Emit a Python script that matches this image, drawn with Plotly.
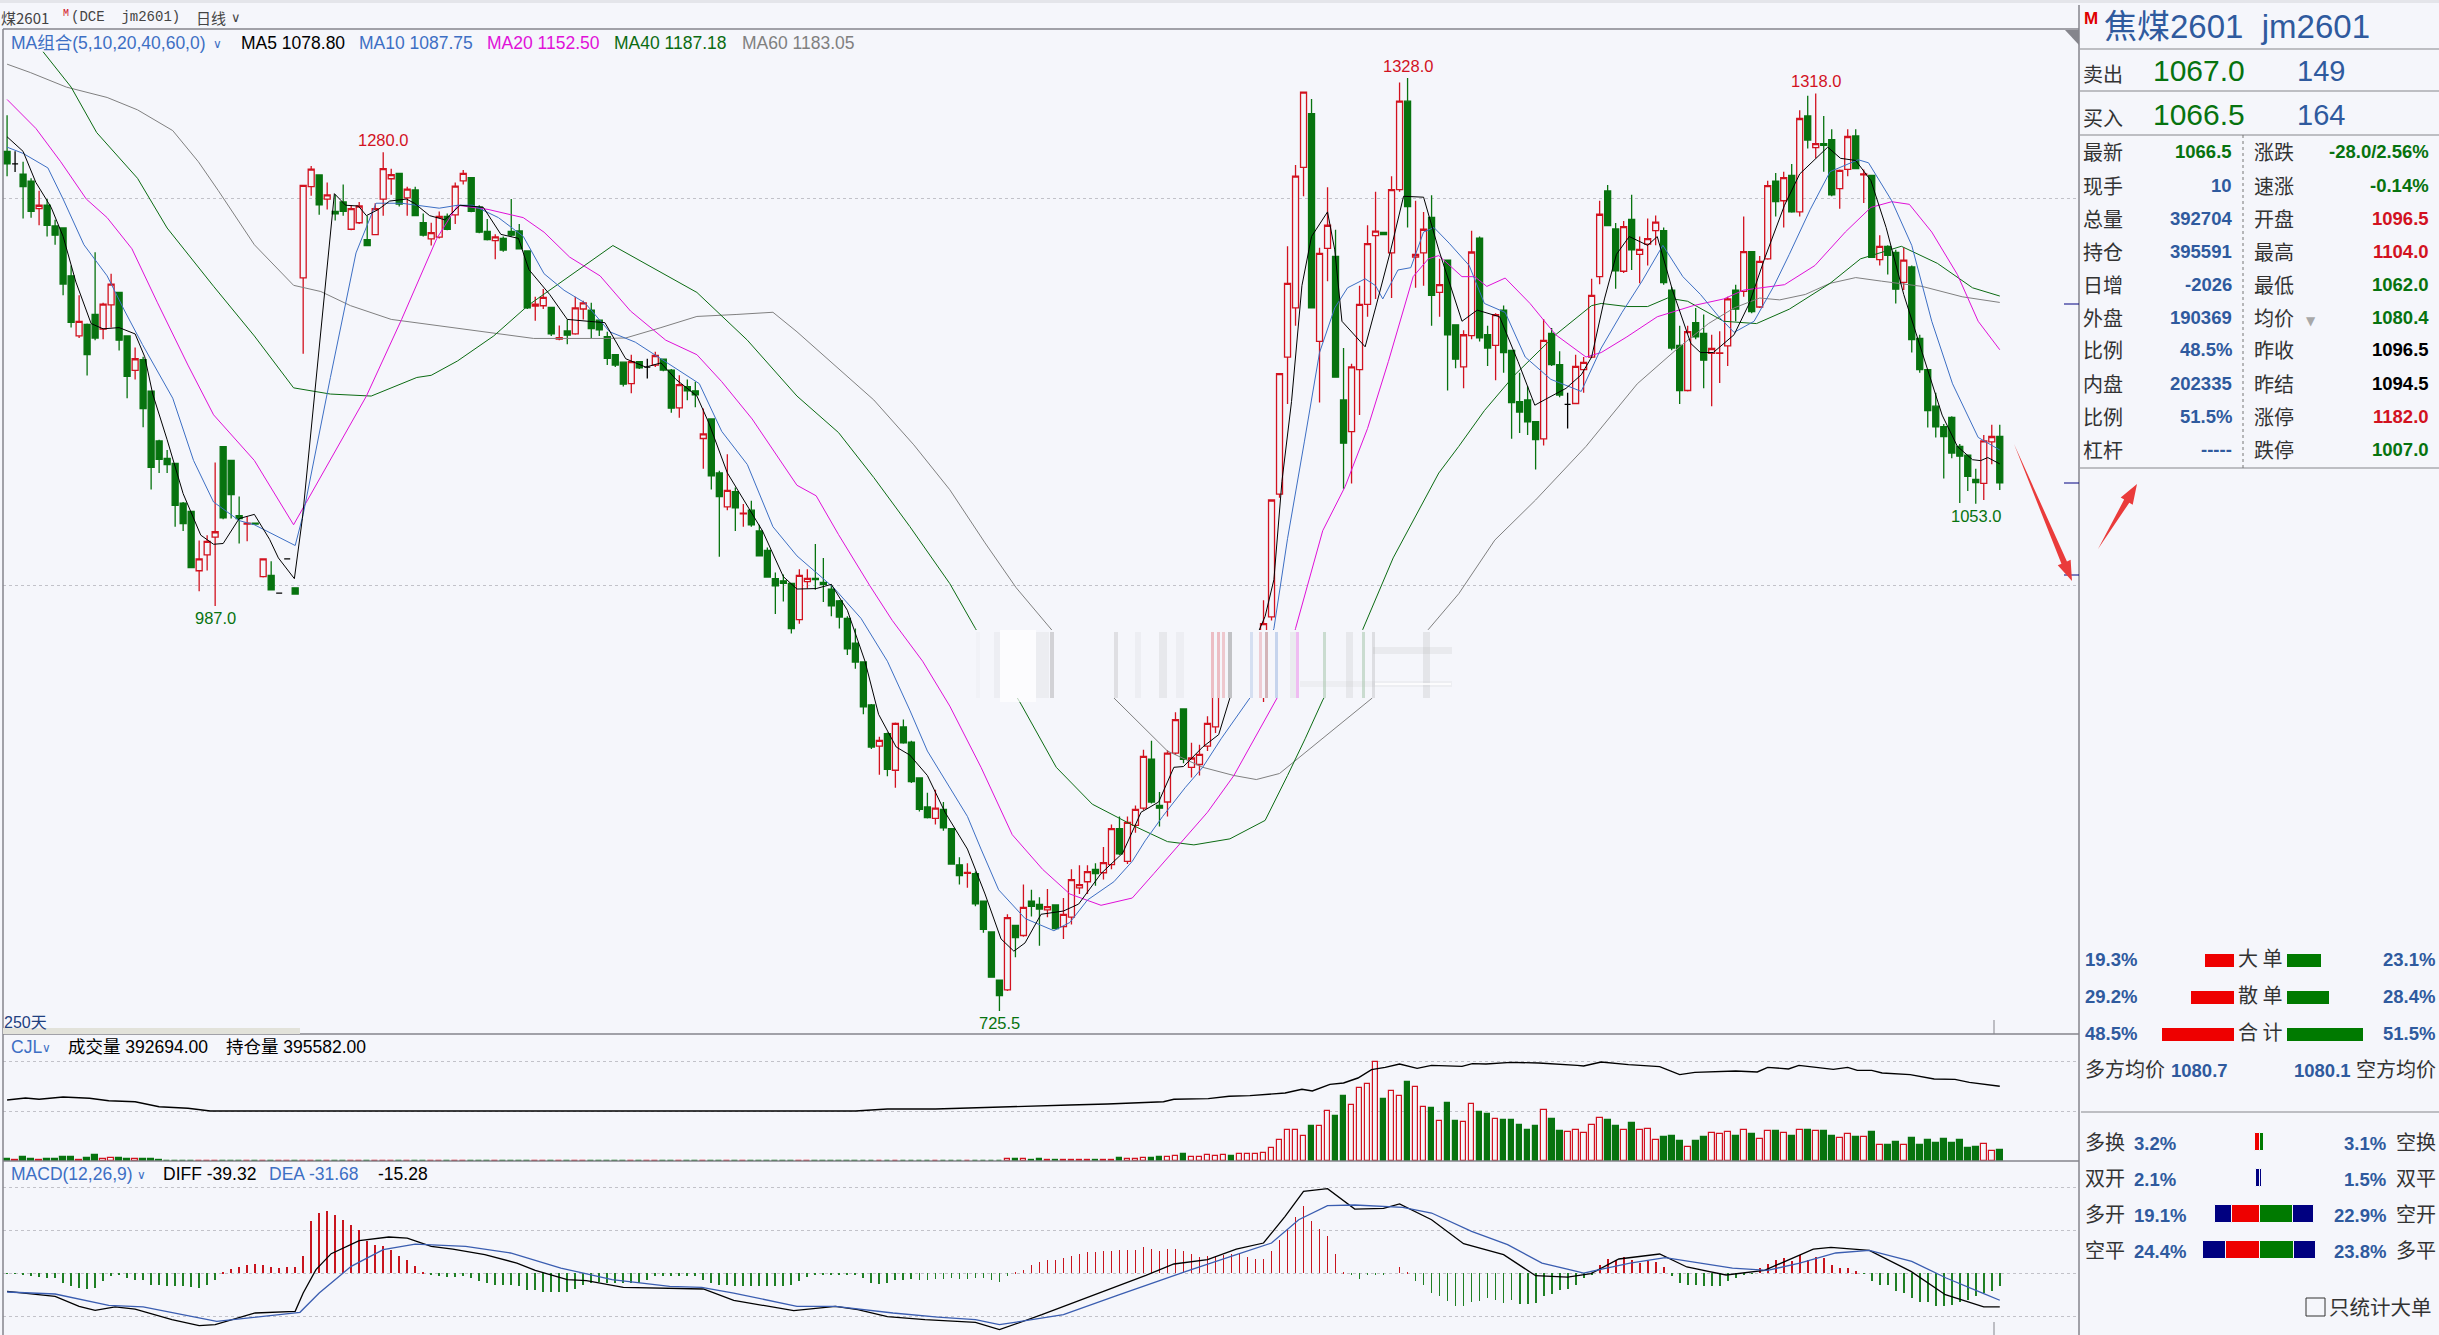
import plotly.graph_objects as go

W, H = 2439, 1335
BG = '#F5F6FB'
RED = '#D2121F'
GREEN = '#07730F'
BLUE = '#2F5A9E'
LATIN = 'Liberation Sans, Noto Sans CJK SC'
CJK = 'Noto Sans CJK SC'

# daily candles, 250 of them
opens = [
    1280.6,1272.5,1265.9,1261.3,1243.6,1245.8,1232.4,1231.1,1200.2,1161.4,
    1168.9,1175.3,1165.9,1181.5,1189.5,1161.4,1139.2,1146.1,1125.8,1093.6,
    1082.4,1079.2,1053.4,1048.1,1009.8,1020,1031.5,1089.9,1081,1045.4,
    1040,1040.5,1006,1006.8,995.3,1017.5,998.8,1198.9,1257.8,1265.4,
    1249.8,1241.8,1247.9,1230.3,1234.5,1223.6,1226.8,1249.8,1262.9,1266.4,
    1250.6,1255.7,1234.5,1224.1,1225.2,1238.6,1239.6,1261.6,1263.7,1244.5,
    1228.9,1223,1224.4,1228.9,1229.2,1216.3,1180.7,1180.9,1179.9,1159.3,
    1164.6,1162.7,1178.8,1178,1171.6,1160.9,1149.3,1144.5,1130.6,1144.8,
    1141.3,1142.6,1146.4,1139.4,1115,1128.7,1126,1095.2,1107.8,1073,
    1051,1060.9,1046.5,1048.9,1035.5,1022.9,1004.7,1003.3,1001.7,978.3,
    1002.8,1004.9,1002.3,998,990.4,979.1,963,950.9,923.2,896.6,
    904.7,881,909,899.2,876,857.3,849.9,855.7,843.3,819.9,
    814.5,814.3,796.4,776.6,745.5,739.2,780.8,774.3,796.4,794.3,
    790.9,794,780,786.1,805.1,809,817,814.8,820.1,843.3,
    822.2,845.4,856.5,888.1,858.3,860.5,892,920.6,882.9,884.7,
    896.6,909,930,968,960,963,966,930,980,1059.3,
    1147.8,1179.5,1270.3,1304.9,1157.9,1217.9,1212.7,1120.1,1099.7,1139.7,
    1181.8,1226.2,1228.2,1215,1255.9,1313,1212.4,1215,1238,1189.6,
    1210.4,1168.6,1141.5,1161.6,1224.5,1162.2,1155.3,1178.1,1152.1,1119,
    1120.1,1106,1095,1163.1,1142.9,1117.2,1117.8,1139.7,1147.8,1199.7,
    1255,1230.5,1203.2,1236.6,1214.1,1220.7,1229.4,1229.4,1191,1155.3,
    1126.2,1170,1163.1,1150.1,1150.2,1155,1191,1190.2,1215.8,1180.1,
    1211.2,1261.4,1248.7,1265.1,1241.5,1303.5,1283,1285.6,1288.2,1256.5,
    1268.9,1290.5,1265.5,1265.1,1210.7,1219.3,1215.3,1196,1206,1159.9,
    1139.7,1116.1,1102.8,1108.9,1090.1,1084.4,1068.8,1066.2,1093,1096.5,
]
highs = [
    1303.9,1280.6,1273.9,1263.2,1255.2,1249.8,1236.4,1231.6,1206.9,1187.7,
    1169.4,1215.5,1182.8,1201.6,1189.5,1161.4,1153.9,1148,1125.8,1094.4,
    1087.7,1079.2,1054.2,1048.1,1029.3,1032.8,1079.7,1089.9,1081,1057.7,
    1044.9,1040.5,1017.5,1015.9,995.3,1017.5,998.8,1258.6,1271.2,1265.4,
    1260.5,1252.5,1259.2,1245.8,1247.9,1239.1,1247.1,1280,1269.4,1266.4,
    1257.8,1257.8,1240.4,1234.5,1241.8,1240.4,1260.5,1268.6,1263.7,1245.8,
    1236.9,1227,1225.7,1249.8,1233.7,1216.3,1186.8,1191.7,1179.9,1168.1,
    1172.1,1186.8,1184.2,1182.8,1172.1,1164.1,1149.3,1144.5,1149.3,1145.3,
    1146.7,1151.2,1146.9,1140,1136,1133.3,1131.9,1114.5,1107.8,1074.3,
    1085,1063.6,1052.9,1055,1039.5,1024.8,1008.7,1007.4,1002,1010.7,
    1010.7,1027,1018.1,1001,990.9,980.4,972.5,951.4,923.7,902.6,
    905.3,911.9,913.7,900,876,866.5,868.4,860.5,843.3,824.9,
    820.9,815.6,796.4,776.6,745.5,788,780.8,807.2,803.8,799,
    804.3,794,798.5,817,819.6,819.6,820.9,831.5,846,851.2,
    851.2,858.3,894.2,900,867,893.9,918.4,920.6,898.7,897.4,
    915.8,958,970,970,966,966,970,990.7,1056,1137.1,
    1219.3,1271.8,1318.8,1314.4,1218.4,1257.4,1230,1153.6,1143.5,1193.9,
    1232.9,1254.5,1228.2,1264.6,1325.1,1328,1248.7,1241.5,1252.2,1211.2,
    1210.4,1169,1165.1,1229.4,1225.6,1168,1176,1181,1152.1,1137.7,
    1129,1106,1172.3,1166.5,1151.5,1124.7,1149.3,1147.8,1198.3,1248.7,
    1258.8,1234.3,1235.7,1252.5,1225.6,1237.2,1239.2,1231.4,1193,1168,
    1168,1179.5,1175.2,1162.2,1164.5,1186.7,1194.5,1238.6,1215.8,1213,
    1261.7,1266.6,1267.4,1272.4,1307.2,1316.5,1318,1303.5,1294.8,1268.9,
    1294.8,1294.8,1268.9,1265.1,1226.5,1219.9,1217,1218.4,1206.9,1162.2,
    1139.7,1124.7,1104.6,1109.5,1091.6,1084.4,1075.7,1097.4,1104,1104,
]
lows = [
    1264.5,1267.2,1237.2,1237.8,1232.9,1225.7,1220.3,1187.7,1166.8,1160.1,
    1135.9,1158.7,1159.3,1166.8,1152,1121.2,1133.3,1102.5,1062.3,1073,
    1073,1038.2,1035.5,1011.4,996.6,1010,987,1043,1043.5,1027.4,
    1028.8,1040,1005.5,997.4,995.3,1017.5,994.8,1149.9,1251.9,1239.6,
    1243.1,1236,1239.1,1229.7,1233.7,1219.8,1226.5,1239.1,1252.5,1245,
    1239.1,1239.1,1225.7,1219.8,1224.4,1229.7,1233.7,1259.2,1241.2,1227.8,
    1223,1211,1215.8,1225.7,1217.7,1178.8,1171.3,1178.8,1161.4,1158.7,
    1156,1162.2,1172.1,1160.1,1161.4,1142.6,1141.3,1128.7,1124.4,1140,
    1134,1141.3,1138.6,1111.8,1108.6,1119.9,1115.3,1075.7,1062.3,1018.9,
    1048.9,1035.5,1038.2,1038.2,1019.4,1005.5,981.9,990,969.3,975.6,
    998.3,997.5,989.6,980.4,972.5,955.4,946.6,917.1,894.7,878.1,
    877.1,869.7,898.1,872.8,854.4,849.9,846,842,820.4,807.2,
    805.1,793.2,776.1,747.1,725.5,738.4,760.3,773.5,786.6,767.7,
    786.1,778.2,772.1,781.4,801.1,801.1,806.4,810.4,817,826.2,
    820.4,840.7,855.2,859.6,844.6,851.2,890.8,885.5,876.3,877.6,
    893.4,905,928,958,958,961,964,925,977.7,1057,
    1117.5,1168,1251.6,1179.5,1118.4,1196.8,1134.8,1062.8,1066.2,1110.3,
    1173.8,1185.3,1226.8,1185.9,1254.5,1231.4,1192.5,1193.9,1168,1173.8,
    1126.2,1140.6,1127.6,1159.3,1157.9,1142,1132.8,1137.7,1095,1098.8,
    1097.4,1075.2,1090.7,1142,1121.9,1101.7,1117.5,1124.7,1147.2,1194.8,
    1232.3,1191.9,1202,1204,1195.4,1206.9,1219.9,1194.5,1152.1,1117.5,
    1125.6,1159.3,1127.6,1116.1,1131.1,1142,1170.9,1186.7,1176,1179.5,
    1210.6,1238.6,1231.4,1240.9,1238.6,1282.4,1276.1,1267.4,1251.6,1243.5,
    1264.6,1269.5,1247.3,1211.8,1206.9,1201.1,1182.4,1191,1150.7,1137.7,
    1102.3,1095.9,1069.4,1082.4,1053.5,1061.3,1053,1055.5,1078.6,1062,
]
closes = [
    1272.6,1272.5,1257.8,1241.8,1245.8,1232.9,1226.5,1194.9,1170.2,1170.8,
    1149.3,1160.1,1182,1194.9,1158.7,1135.4,1146.7,1114.5,1076.5,1081.8,
    1078.4,1052.1,1040.3,1011.9,1017.5,1028.8,1035,1044,1059,1043.5,
    1040.5,1040,1017.5,997.4,995.3,1017.5,994.8,1258.6,1269.1,1246,
    1252.5,1240.2,1241.8,1243.6,1245.3,1219.8,1243.6,1269.4,1265.6,1246.6,
    1256.2,1239.1,1226.5,1228.1,1238.6,1230.3,1258.1,1266.4,1241.8,1228.4,
    1223.6,1225.4,1216.9,1226.5,1217.7,1179.6,1182,1186.3,1162.7,1160.3,
    1161.9,1179.6,1182.8,1166.2,1165.4,1146.9,1142.6,1130.3,1144.8,1140.8,
    1141.3,1148.8,1139.4,1114.8,1130,1126,1123.4,1098.2,1071.1,1057.7,
    1061.7,1050.5,1047,1039.5,1019.4,1005.7,1000,1001.7,972.5,1006.8,
    1004.9,1004.1,1001,987.2,979.9,959.3,950.9,921.9,896,900.3,
    881.5,911.3,898.7,873.6,855.7,850.4,856.5,843.8,820.4,813,
    815,794.8,778.2,747.4,735.5,785.8,772.9,792.4,793.2,791.4,
    793,778.7,788,810.4,807.2,815.6,814.3,821.4,843.3,827,
    847.3,855.7,890,860.5,856.5,892,913.7,888.1,888.9,891.3,
    911.3,955,968,960,964,968,969,975.7,1055.5,1137.1,
    1195.4,1264.6,1318.8,1179.5,1214.7,1232.9,1134.8,1092.2,1141.5,1181.8,
    1221,1229.1,1226.8,1255.9,1313,1245,1214.1,1230.3,1187.6,1194.5,
    1162.2,1146.4,1162.2,1215.6,1160.2,1153.6,1175.2,1150.7,1118.4,1112.3,
    1106,1094.5,1158.5,1142.9,1123.3,1117.2,1141.8,1144.3,1187.6,1240,
    1232.6,1203.4,1232,1217,1217.3,1224.2,1234.9,1195.9,1153.6,1126.2,
    1164.2,1160.8,1145.8,1153.3,1150.4,1185.3,1178.7,1215.8,1177.2,1209.5,
    1258.5,1248.1,1263.7,1241.5,1301.8,1287.9,1285.6,1284.5,1252.5,1268.3,
    1290.2,1269.5,1266,1212.1,1219.3,1213.5,1191.6,1210.4,1159,1139.7,
    1113.2,1102.8,1096.5,1085.8,1083.8,1070.8,1066.8,1093.6,1096.5,1066.5,
]

# moving averages, x is the candle number
ma5_x = [0,2,3.6,5.5,7,8.6,10.5,12,14,16,17.2,18.2,20,22,24.2,25.8,27,29,30.9,32.8,33.9,35.9,36.9,40.9,42.3,43.9,44.9,46.4,47.8,49.9,50.9,52.8,54.7,56.6,59.5,61.7,63.9,65.2,67.8,70,72.8,74.7,77.3,79.8,81.7,83.6,86.2,87.7,90,92.5,94.4,97,98.7,
         101.1,103,105,107.2,108.9,111.1,112.8,115,117.2,120,122.2,124.2,125.8,127.2,129.2,132,133.9,136.7,139.4,141.7,143.9,145.8,147,149.4,151.4,152.8,157.2,158.3,159.3,
         160.5,161.8,163,165,165.9,166.8,169.7,171,172.9,174.5,177,178.9,181.8,183.7,186.5,188.8,190.9,192.2,194.8,196.7,198,199.6,201.1,202.7,205,206.2,208.1,210.4,211.6,213.2,215.8,217.7,219.6,222.1,224,227.5,229.1,231,232.9,234.8,237,239.3,241.8,243.7,245.6,246.6,247.5,249]
ma5_y = [1290,1280.6,1260.5,1244.5,1225.7,1196.2,1169.4,1166,1166.8,1162.7,1148,1123.9,1094.4,1059.6,1032.8,1026.9,1027.4,1043.5,1046.2,1030.1,1018.1,1004.7,1043.5,1253.3,1245.8,1245.3,1239.1,1243.1,1248.5,1249.8,1247.1,1239.1,1236.4,1245.8,1244.5,1227,1224.4,1204.3,1188.2,1172.1,1170.8,1170,1146.7,1141.3,1144,1133.3,1122.6,1105.1,1073,1051.6,1035.5,1006,998,
         998.3,1001,984.3,951.4,917.1,896,890.8,877.6,853.9,830.1,801.1,772.1,764.2,769.5,788,790.1,794.6,814.3,827.5,853.9,860.5,882.9,883.4,896,904,927.7,980.4,1004.1,1067.4,
         1119,1193.9,1225.6,1241.5,1217,1170.9,1154.4,1179.5,1217,1251.6,1251,1217,1170.9,1178.1,1173.8,1144.9,1116.7,1120.4,1127.6,1136.3,1147.8,1185.3,1214.1,1225.6,1219.9,1225.6,1191,1156.5,1150.7,1150.7,1162.2,1182.4,1211.2,1245.8,1266,1283.3,1276.1,1274.7,1261.7,1231.4,1188.2,1150.7,1110.3,1090.1,1081.5,1080.9,1082.9,1078.8]
ma10_x = [0,2,5.1,7,9.6,12.5,14.7,16.9,20.7,23.3,25.8,29,30.9,33.4,36,37,40.4,43.6,46.1,49.3,54,56.3,58.2,61.4,64.5,67.1,69.6,72.2,75.3,78.5,81.7,86.5,89.3,92.5,95.7,98.7,
          103.3,106.7,110,112.8,115,117.8,120,121.7,123.9,127.2,130.8,132.8,135,138.3,140.6,142.2,144.4,147.2,149.4,151.7,155.3,158.3,160,
          162.1,164,165.9,167.5,169.7,171,171.9,173.8,175.4,177,178.3,180.2,182.7,184.6,187.2,189.7,192.9,196.7,199.2,201.8,204.3,206.9,209.4,211.6,213.9,215.8,218.3,220.8,222.7,225.3,227.8,231.3,232.6,235.5,238,240.5,243.1,246.3,249]
ma10_y = [1283.3,1279.3,1269.9,1249.8,1220.3,1200.2,1177.5,1156,1121.2,1081,1054.2,1042.2,1039.5,1032.8,1026.1,1046.2,1134.6,1215,1247.1,1247.1,1243.9,1245.8,1245.8,1237.8,1225.7,1201.6,1190.9,1182.8,1164.1,1157.4,1146.7,1130.6,1099.8,1078.4,1038.2,1019.4,
          998.8,979.1,951.4,919.8,893.4,869.7,851.2,830.1,803.8,785.3,777.4,782.7,797.2,809,822.2,835.4,851.2,869.7,882.9,901.3,927.7,972.5,1030.5,
          1093,1150.7,1179.5,1192.5,1198.3,1193.9,1185.3,1204,1205.5,1228.5,1231.4,1221.3,1206.9,1182.4,1176.6,1147.8,1133.4,1125.6,1153.6,1176.6,1196.8,1219.9,1199.7,1188.2,1173.8,1163.7,1170.9,1193.9,1214.1,1242.9,1267.5,1275.2,1273.2,1248.7,1219.9,1170.9,1130.5,1095.9,1087.75]
ma20_x = [0,3.6,6.7,9.9,12.5,15.6,18.8,22.6,25.8,30.9,35.8,44.9,49.3,53.7,56.3,60.1,64.5,67.1,70.3,74.1,77.9,82.3,86.2,89.3,93.1,96.3,98.7,
          101.1,103.9,107.8,110.6,114.4,117.8,121.7,125.6,129.4,132.8,136.7,140.6,143.3,146.7,150,153.3,156.7,158.7,161,164.4,
          167.2,170,172.6,175.7,177.6,178.9,181.8,183.4,184.9,187.2,190.3,193.5,197.3,199.2,202.4,206.2,210.7,214.5,217,222.1,225.9,229.7,232.9,235.5,237.7,240.5,243.7,246.3,249]
ma20_y = [1314.1,1295.4,1273.9,1249.8,1237.8,1217.7,1182.8,1142.6,1110.5,1081,1039.5,1122.6,1172.1,1224.4,1245.8,1243.1,1237.8,1228.4,1212.3,1200.2,1177.5,1158.7,1149.3,1131.9,1107.8,1083.7,1065,
          1058.2,1033.1,1000.2,977.8,951.4,922.4,882.9,839.4,817,801.1,793.8,798.5,814.3,834.1,853.9,877.6,909.2,927.7,972.5,1035.7,
          1064.2,1101.7,1144.9,1199.7,1211.2,1213.3,1199.7,1199.7,1193.4,1198.8,1182.4,1162.2,1147.8,1150.7,1160.8,1173.8,1181,1185.3,1191,1194.5,1206.9,1228.5,1244.4,1248.1,1246.4,1228.5,1201.1,1170.9,1152.5]
ma40_x = [4.5,8,11.2,16.3,20,25.8,30.9,35.8,40.4,45.5,51.2,53,56.3,60.8,65.2,75.7,86.2,92.5,98.7,
          103.9,108.3,112.8,117.8,121,126.7,131.1,135.6,141,145,148.3,152.8,157.2,160,162.2,164.4,
          169.4,173.2,178.9,181.4,184.6,188.4,193.5,198,199.2,202.4,205,207.5,210,214.5,218.6,222.7,227.8,231.6,236.7,241.2,245.6,249]
ma40_y = [1344.9,1322.1,1292.7,1263.2,1231.1,1193.5,1161.4,1127.9,1123.9,1122.6,1134.6,1136,1145.3,1161.4,1181.5,1219.8,1189.5,1158.7,1122.6,
          1099,1070,1038.4,1001.5,972.5,923.7,882.9,859.1,844.6,834.9,832.8,836.7,848.6,877.6,901.3,926.3,
          971.9,1018.1,1072.9,1090.1,1113.2,1136.3,1162.2,1181,1182.4,1180.4,1180.4,1185.9,1183.8,1170.9,1169.4,1178.7,1195.4,1211.2,1219.3,1208.3,1192.5,1187.18]
ma60_x = [0,2.9,7.4,12.5,16.3,20.7,23.9,26.4,30.9,35.8,39.2,42.9,48,55.7,60.7,65.8,74.7,77.3,81.7,86.2,91.2,95.7,98.7,
          108.3,113.3,117.8,122.2,126.1,130.6,138.3,145,149.4,153.3,156.1,159,161.2,165.7,170.6,
          177.6,181.4,185.9,191,197.3,203.7,208.8,212.6,215.8,219,221.5,224.7,227.8,231,234.2,239.3,244.3,249]
ma60_y = [1336.9,1331.5,1322.1,1315.4,1307.4,1294,1273.9,1255.2,1220.3,1194.1,1190.1,1181,1172.1,1166.8,1163.3,1159.8,1159.8,1160.1,1166.8,1174,1175.3,1176.7,1164.1,
          1120.1,1091.1,1062.1,1027.8,998.8,971.2,927.7,893.4,882.9,877.6,875,878.9,888.1,906.6,927.7,
          971.9,995,1029.6,1055.5,1090.1,1130.5,1153.6,1169.4,1179.5,1185.9,1184.7,1188.2,1195.4,1199.1,1196.8,1193.4,1186.7,1183.05]

# volume in thousands of lots
volume_k = [71,36,131,71,48,71,83,131,131,48,119,202,71,95,107,60,60,60,60,24] + [0] * 98 + [
    0,12,0,0,12,12,12,
    60,60,60,24,60,24,24,24,24,24,24,24,24,24,107,60,60,95,107,143,143,167,250,155,143,
    214,190,202,190,250,250,238,274,452,750,1095,1095,893,1250,1250,1785,1607,2321,1999,2594,
    2749,3546,2213,2487,2321,2820,2630,1916,1892,1428,2071,1428,1380,2023,1761,1678,1499,1464,1464,1285,
    1107,1250,1809,1511,1071,1023,1095,988,1285,1523,1464,1250,1095,1357,1107,1131,738,857,893,714,
    488,714,857,988,952,1023,904,1095,964,774,1059,1071,988,893,1095,1107,1059,1071,893,809,
    952,845,845,1023,559,571,678,571,821,571,738,631,785,631,750,464,488,595,345,392.7]
oi_x = [0,2.3,4,7,10.3,12.7,16,19,22.6,25.4,106,110,116,121,124,132.8,137.5,144.5,145.8,150.1,
        152.7,155.3,159.7,161.8,163.1,165.3,167,168.8,170.5,172.2,174,176.2,178,181.8,183.1,184.8,187.9,191.4,196.2,197,
        199.2,202.6,206.5,209,210.9,216,218.7,220,222.6,223.9,228.2,230,231.2,233,234.3,237.8,240.8,243.4,245.2,249]
oi_k = [176,208,187,224,203,165,149,69,43,0,0,32,32,53,69,96,112,149,187,198,
        235,246,288,347,320,427,448,528,662,699,753,683,731,715,758,753,779,769,731,721,
        785,742,710,582,619,641,625,699,673,731,667,699,651,651,609,582,512,507,459,395.6]

# MACD
macd_hist = [-0.8,-0.3,-1.9,-3.9,-4.7,-5.8,-5.8,-11.6,-15.5,-17.4,-18.2,-17.4,-9.7,-3.9,-1.9,-5.8,-7.8,-7.8,-13.6,-13.6,
    -14.7,-15.5,-15.5,-16.7,-17.4,-13.6,-7.8,
    0.8,4.7,7,9.3,10.9,9.3,6.6,5.4,7.4,7,20.2,60.9,69.8,71.7,67.8,62,56.2,50.4,36.8,33,31,27.1,19.4,14.7,7.8,1.2,
    -1.2,-3.9,-5,-4.7,-3.9,-5.8,-9.7,-11.6,-13.6,-13.6,-14.3,-15.5,-20.2,-20.2,-22.1,-22.5,-22.5,-22.5,-18.6,-13.6,
    -11.6,-10.9,-11.6,-11.6,-11.6,-11.6,-11.6,-7.8,-3.9,-3.1,-3.9,-3.1,-3.1,-3.9,-7.8,-11.6,-13.6,-14.3,-14.7,-14.7,
    -14.7,-14.7,-14.7,-14.7,-14.7,-14.3,-9.7,-5,-1.9,-1.2,-1.2,-1.2,-1.2,-1.2,-5.8,-11.6,-12.4,-11.6,-7.8,-7.8,-7,
    -7.8,-7.8,-7,-7,-5.8,-7,-7,-5.8,-5.8,-7.8,-10.5,
    -3.9,0.8,3.9,8.9,12.4,15.5,15.5,17.4,20.2,22.5,24,24.4,25.2,26,26.4,27.1,27.1,30.2,28.3,26,27.9,28.3,25.2,22.1,18.6,
    19.4,19.8,20.5,22.5,22.5,18.6,16.7,16.7,25.2,38.8,51.2,65.1,77.5,60.9,51.6,43.4,22.5,0.8,-1.9,-7,-1.9,-1.9,-1.2,0,6.6,
    0.8,-9.7,-13.6,-23.3,-27.1,-33,-38.8,-38.8,-34.1,-33,-29.1,-31,-34.9,-31,-35.7,-35.7,-34.9,-27.1,-24,-20.2,-18.6,-13.6,
    -5.8,-1.9,9.7,16.3,14.7,18.6,14.7,11.6,13.6,12.4,7,-3.1,-11.6,-13.6,-14.3,-15.5,-15.5,-14.7,-9.7,-5.8,-1.9,-0.8,5.8,10.5,
    15.5,17.4,13.6,21.3,15.5,18.6,17.4,9.7,5.8,5.8,1.9,-0.8,-9.7,-13.6,-13.6,-21.3,-23.3,-29.1,-34.1,-34.1,-38,-38,-36.8,
    -34.1,-31,-27.1,-23.3,-21.3,-15.28]
diff_x = [0,3,6,9,11,13.5,16,20.6,24,26,31,36,37,38.6,40.5,44,47.7,50,53,55.7,59.7,63.7,66,70,72.4,77,82,87,90.8,98.3,103.5,106.3,110,114.7,121,
          124,129.3,135.4,142.3,145.8,150,153.6,157,159.7,162,165,168.4,172,174,178,182,187,191,195,197.9,201.4,206.5,209.9,214.8,219.6,225.7,227.9,232.7,237.9,242.2,247,249]
diff_y = [-21.3,-24.4,-27.1,-38.8,-43.4,-39.5,-41.9,-54.3,-61.3,-60.1,-46.5,-44.6,-23.3,3.9,22.5,37.6,41.9,40.7,31,27.9,21.3,11.6,3.1,-7.8,-8.9,-16.7,-17.8,-18.6,-31.8,-43.8,-38.8,-42.6,-50.8,-54.3,-57.4,
          -65.9,-48.5,-27.1,-2.7,10.5,15.5,27.9,34.9,65.9,95,98.1,74.4,75.2,80.3,62,34.1,21.3,-3.1,-4.7,-0.8,16.3,22.1,7,-2.3,3.1,27.9,29.9,26.4,1.9,-25.2,-39.5,-39.32]
dea_x = [0,6,12.7,17,26.2,31,36.6,39,43,47,51,57.3,62.9,69.2,75.6,82.8,86.8,90.8,98.7,103.5,110.7,116.3,121,124,
         132,139,146.7,153.6,158,161.4,165,168.4,174.4,178,183,187.5,191.8,197,202.8,207.2,215.6,220,224,228.5,232.7,238,242.3,247,249]
dea_y = [-22.1,-24.4,-37.6,-39.5,-56.2,-51.2,-45.7,-23.3,7.8,27.1,33.7,31,23.3,5.8,-7.8,-15.5,-16.7,-23.3,-38.8,-38.8,-46.5,-51.2,-54.3,-60.1,
         -48.5,-25.2,0,21.3,34.9,62,78.3,79.1,76.4,69.8,48.5,33,11.6,0,11.6,17.8,5.8,3.1,11.6,23.3,26.4,13.6,-5.8,-24,-31.68]

# order flow bars on the right
flow_rows = ['大单', '散单', '合计']
flow_buy = [19.3, 29.2, 48.5]
flow_sell = [23.1, 28.4, 51.5]
pos_rows = ['多换', '双开', '多开', '空平']
pos_left_red = [2.3, 0, 11.9, 14.6]
pos_left_navy = [0, 1.7, 7.2, 9.8]
pos_right_green = [1.8, 0, 14.1, 14.6]
pos_right_navy = [0, 0.9, 8.8, 9.2]

quote_left = ['最新', '现手', '总量', '持仓', '日增', '外盘', '比例', '内盘', '比例', '杠杆']
quote_left_val = ['1066.5', '10', '392704', '395591', '-2026', '190369', '48.5%', '202335', '51.5%', '-----']
quote_right = ['涨跌', '速涨', '开盘', '最高', '最低', '均价', '昨收', '昨结', '涨停', '跌停']
quote_right_val = ['-28.0/2.56%', '-0.14%', '1096.5', '1104.0', '1062.0', '1080.4', '1096.5', '1094.5', '1182.0', '1007.0']
quote_right_col = [GREEN, GREEN, RED, RED, GREEN, GREEN, 'black', 'black', RED, GREEN]


def fx(px):
    return px / W


def fy(py):
    return 1 - py / H


n = list(range(len(closes)))
is_doji = [abs(o - c) < 0.01 for o, c in zip(opens, closes)]


def keep(vals, flag):
    return [v if d == flag else None for v, d in zip(vals, is_doji)]


fig = go.Figure()

fig.add_trace(go.Candlestick(x=n, open=keep(opens, False), high=keep(highs, False),
                             low=keep(lows, False), close=keep(closes, False),
                             increasing=dict(line=dict(color=RED, width=1.3), fillcolor=BG),
                             decreasing=dict(line=dict(color=GREEN, width=1.3), fillcolor=GREEN),
                             whiskerwidth=0, xaxis='x', yaxis='y', showlegend=False))
fig.add_trace(go.Candlestick(x=n, open=keep(opens, True), high=keep(highs, True),
                             low=keep(lows, True), close=keep(closes, True),
                             increasing=dict(line=dict(color='black', width=1.3), fillcolor='black'),
                             decreasing=dict(line=dict(color='black', width=1.3), fillcolor='black'),
                             whiskerwidth=0, xaxis='x', yaxis='y', showlegend=False))

ma_lines = [(ma60_x, ma60_y, '#808080'), (ma40_x, ma40_y, '#0B6B12'), (ma20_x, ma20_y, '#E010D8'),
            (ma10_x, ma10_y, '#3D6FC4'), (ma5_x, ma5_y, 'black')]
for xs, ys, col in ma_lines:
    fig.add_trace(go.Scatter(x=xs, y=ys, mode='lines', line=dict(color=col, width=1),
                             xaxis='x', yaxis='y', showlegend=False))

up = [c >= o for o, c in zip(opens, closes)]
fig.add_trace(go.Bar(x=n, y=volume_k, width=0.72,
                     marker=dict(color=[BG if u else GREEN for u in up],
                                 line=dict(color=[RED if u else GREEN for u in up], width=1.2)),
                     xaxis='x2', yaxis='y2', showlegend=False))
fig.add_trace(go.Scatter(x=oi_x, y=oi_k, mode='lines', line=dict(color='black', width=1.4),
                         xaxis='x2', yaxis='y3', showlegend=False))

fig.add_trace(go.Bar(x=n, y=macd_hist, width=0.1,
                     marker=dict(color=['#C8141E' if v > 0 else '#1E7F24' for v in macd_hist], line=dict(width=0)),
                     xaxis='x3', yaxis='y4', showlegend=False))
fig.add_trace(go.Scatter(x=diff_x, y=diff_y, mode='lines', line=dict(color='black', width=1.3),
                         xaxis='x3', yaxis='y4', showlegend=False))
fig.add_trace(go.Scatter(x=dea_x, y=dea_y, mode='lines', line=dict(color='#3A5DB0', width=1.3),
                         xaxis='x3', yaxis='y4', showlegend=False))

fig.add_trace(go.Bar(x=[-v for v in flow_buy], y=flow_rows, orientation='h', width=0.35,
                     marker=dict(color='#EE0000', line=dict(width=0)), xaxis='x4', yaxis='y5', showlegend=False))
fig.add_trace(go.Bar(x=flow_sell, y=flow_rows, orientation='h', width=0.35,
                     marker=dict(color='#007A00', line=dict(width=0)), xaxis='x5', yaxis='y5', showlegend=False))

for vals, col, sign in [(pos_left_red, '#EE0000', -1), (pos_left_navy, '#000080', -1),
                        (pos_right_green, '#007A00', 1), (pos_right_navy, '#000080', 1)]:
    fig.add_trace(go.Bar(x=[sign * v for v in vals], y=pos_rows, orientation='h', width=0.5,
                         marker=dict(color=col, line=dict(color=BG, width=1)),
                         xaxis='x6', yaxis='y6', showlegend=False))

shapes = []


def line(x0, y0, x1, y1, color='#85858C', width=1.5, dash='solid'):
    shapes.append(dict(type='line', xref='paper', yref='paper', x0=fx(x0), y0=fy(y0), x1=fx(x1), y1=fy(y1),
                       line=dict(color=color, width=width, dash=dash), layer='above'))


def rect(x0, y0, x1, y1, color, opacity=1.0, border=None):
    shapes.append(dict(type='rect', xref='paper', yref='paper', x0=fx(x0), y0=fy(y0), x1=fx(x1), y1=fy(y1),
                       fillcolor=color, opacity=opacity, line=dict(width=1 if border else 0, color=border or color),
                       layer='above'))


def poly(points, color):
    path = 'M ' + ' L '.join(f'{fx(a):.5f},{fy(b):.5f}' for a, b in points) + ' Z'
    shapes.append(dict(type='path', xref='paper', yref='paper', path=path, fillcolor=color,
                       line=dict(width=0), layer='above'))


def arrow(x0, y0, x1, y1, color='#EA3B3B'):
    dx, dy = x1 - x0, y1 - y0
    ln = (dx * dx + dy * dy) ** 0.5
    ux, uy = dx / ln, dy / ln
    nx, ny = -uy, ux
    bx, by = x1 - ux * 20, y1 - uy * 20
    poly([(x0, y0), (bx + nx * 3, by + ny * 3), (bx + nx * 7, by + ny * 7), (x1, y1),
          (bx - nx * 7, by - ny * 7), (bx - nx * 3, by - ny * 3)], color)


# smeared band across the middle of the chart: opaque cover, then the vertical smears left in it
rect(975, 630, 1456, 698, BG)
band_smears = [(976, 980, '#BBBBBB', .06), (994, 1000, '#AAAAAA', .09), (1036, 1049, '#999999', .1),
               (1050, 1054, '#777777', .28), (1114, 1118, '#888888', .2), (1135, 1141, '#999999', .08),
               (1159, 1167, '#888888', .13), (1176, 1184, '#999999', .08), (1211, 1214, RED, .25),
               (1217, 1220, RED, .25), (1222, 1225, RED, .2), (1228, 1232, '#555555', .32),
               (1250, 1253, '#3D6FC4', .17), (1259, 1262, RED, .18), (1265, 1268, '#7A1010', .28),
               (1275, 1278, '#3D6FC4', .25), (1290, 1296, '#888888', .1), (1296, 1299, '#E010D8', .25),
               (1323, 1326, '#0B6B12', .18), (1346, 1353, '#888888', .13), (1362, 1365, '#0B6B12', .18),
               (1372, 1375, '#777777', .18), (1423, 1430, '#888888', .15)]
for x0, x1, col, op in band_smears:
    rect(x0, 632, x1, 698, col, op)
rect(1000, 630, 1036, 702, 'white', 0.7)
rect(1373, 647, 1452, 654, '#A8A8A8', 0.15)
rect(1300, 681, 1452, 687, '#C0C0C0', 0.14)
rect(1375, 683, 1451, 685, 'white', 0.8)

# frame
rect(0, 0, W, 3, '#E4E5EA')
line(3, 29, 2079, 29)
line(3, 29, 3, H)
line(2079, 5, 2079, H)
line(3, 1034, 2079, 1034)
line(3, 1161, 2079, 1161)
line(1994, 1020, 1994, 1034, width=1)
line(1994, 1322, 1994, H, width=1)
rect(3, 1028, 300, 1034, '#E2E2DA')
poly([(2065, 30), (2079, 30), (2079, 45)], '#85858C')

# right hand panel rules
line(2080, 49, W, 49, width=1.2)
line(2080, 91, W, 91, width=1.2)
line(2080, 135, W, 135, width=1.2)
line(2080, 468, W, 468, width=1.2)
line(2243, 135, 2243, 468, color='#777777', width=1, dash='dot')
line(2081, 1112, W, 1112, width=1.2)
line(2064, 304, 2079, 304, color='#000080', width=1)
line(2064, 483, 2079, 483, color='#000080', width=1)
line(2064, 575, 2079, 575, color='#000080', width=1)
rect(2306, 1298, 2325, 1316, BG, border='#333333')

arrow(2014, 444, 2072, 581)
arrow(2098, 549, 2137, 484)

notes = []


def label(text, x, y, color='#333333', size=20, anchor='left', family=CJK):
    notes.append(dict(text=text, x=fx(x), y=fy(y), xref='paper', yref='paper', showarrow=False,
                      xanchor=anchor, yanchor='middle', borderpad=0,
                      font=dict(family=family, size=size, color=color)))


def peak(text, i, value, color, up_side=True):
    notes.append(dict(text=text, x=i, y=value, xref='x', yref='y', showarrow=False, xanchor='center',
                      yanchor='bottom' if up_side else 'top', yshift=1 if up_side else -1,
                      font=dict(family=LATIN, size=16.5, color=color)))


peak('1280.0', 47, 1280, RED)
peak('1328.0', 175, 1328, RED)
peak('1318.0', 226, 1318, RED)
peak('987.0', 26, 987, GREEN, False)
peak('725.5', 124, 725.5, GREEN, False)
peak('1053.0', 246, 1053, GREEN, False)

# title row and indicator rows
label('煤2601', 0, 17, '#444444', 15, family='Noto Sans CJK SC')
label('M', 62, 13, RED, 10, family='Liberation Mono')
label('(DCE  jm2601)', 70, 17, '#444444', 14, family='Liberation Mono')
label('日线', 195, 17, '#444444', 15)
label('∨', 230, 17, '#444444', 13, family='DejaVu Sans')

label('MA组合(5,10,20,40,60,0)', 10, 43, '#3D6FC4', 17.5, family=LATIN)
label('∨', 212, 44, '#3D6FC4', 12, family='DejaVu Sans')
label('MA5 1078.80', 240, 43, 'black', 17.5, family=LATIN)
label('MA10 1087.75', 358, 43, '#3D6FC4', 17.5, family=LATIN)
label('MA20 1152.50', 486, 43, '#E010D8', 17.5, family=LATIN)
label('MA40 1187.18', 613, 43, '#0B6B12', 17.5, family=LATIN)
label('MA60 1183.05', 741, 43, '#808080', 17.5, family=LATIN)
label('250天', 3, 1022, '#1F3F7F', 16, family=LATIN)

label('CJL', 10, 1047, '#3D6FC4', 17.5, family=LATIN)
label('∨', 41, 1048, '#3D6FC4', 12, family='DejaVu Sans')
label('成交量 392694.00', 67, 1047, 'black', 17.5, family=LATIN)
label('持仓量 395582.00', 225, 1047, 'black', 17.5, family=LATIN)
label('MACD(12,26,9)', 10, 1174, '#3D6FC4', 17.5, family=LATIN)
label('∨', 136, 1175, '#3D6FC4', 12, family='DejaVu Sans')
label('DIFF -39.32', 162, 1174, 'black', 17.5, family=LATIN)
label('DEA -31.68', 268, 1174, '#3D6FC4', 17.5, family=LATIN)
label('-15.28', 377, 1174, 'black', 17.5, family=LATIN)

# quote panel
label('<b>M</b>', 2083, 19, '#E00000', 17, family=LATIN)
label('焦煤2601\u00a0\u00a0jm2601', 2103, 27, BLUE, 33, family=LATIN)
label('卖出', 2082, 74)
label('买入', 2082, 118)
label('1067.0', 2152, 71, GREEN, 30, family=LATIN)
label('1066.5', 2152, 115, GREEN, 30, family=LATIN)
label('149', 2296, 71, BLUE, 29, family=LATIN)
label('164', 2296, 115, BLUE, 29, family=LATIN)

row_y = [152, 185, 218.5, 251.5, 284, 317.5, 350, 383.5, 416.5, 449.5]
for k, y in enumerate(row_y):
    label(quote_left[k], 2082, y)
    label('<b>' + quote_left_val[k] + '</b>', 2233, y, GREEN if k == 0 else BLUE, 18.5, 'right', LATIN)
    label(quote_right[k], 2253, y)
    label('<b>' + quote_right_val[k] + '</b>', 2430, y, quote_right_col[k], 18.5, 'right', LATIN)
label('▼', 2305, 321, '#A8A8A8', 12, family='DejaVu Sans')

# order flow panel
for k, y in enumerate([959, 996, 1033]):
    label(f'<b>{flow_buy[k]}%</b>', 2084, y, BLUE, 18.5, family=LATIN)
    label(f'<b>{flow_sell[k]}%</b>', 2436, y, BLUE, 18.5, 'right', LATIN)
label('大 单', 2260, 957, size=20, anchor='center')
label('散 单', 2260, 994, size=20, anchor='center')
label('合 计', 2260, 1031, size=20, anchor='center')

label('多方均价', 2084, 1068)
label('<b>1080.7</b>', 2170, 1070, BLUE, 18.5, family=LATIN)
label('<b>1080.1</b>', 2352, 1070, BLUE, 18.5, 'right', LATIN)
label('空方均价', 2437, 1068, anchor='right')

left_names = ['多换', '双开', '多开', '空平']
left_pct = ['3.2%', '2.1%', '19.1%', '24.4%']
right_names = ['空换', '双平', '空开', '多平']
right_pct = ['3.1%', '1.5%', '22.9%', '23.8%']
for k, y in enumerate([1141, 1177, 1213, 1249]):
    label(left_names[k], 2084, y)
    label('<b>' + left_pct[k] + '</b>', 2133, y + 2, BLUE, 18.5, family=LATIN)
    label('<b>' + right_pct[k] + '</b>', 2387, y + 2, BLUE, 18.5, 'right', LATIN)
    label(right_names[k], 2437, y, anchor='right')
label('只统计大单', 2328, 1306, size=20.5)

hidden = dict(visible=False, fixedrange=True)
x_dom = [fx(3), fx(2079)]
x_rng = [-0.51, 258.9]
grid = dict(showticklabels=False, ticks='', showline=False, zeroline=False, showgrid=True,
            gridcolor='#C2C2C9', gridwidth=1, griddash='3px,3px')

fig.update_layout(
    width=W, height=H, margin=dict(l=0, r=0, t=0, b=0), autosize=False,
    paper_bgcolor=BG, plot_bgcolor=BG, showlegend=False, barmode='relative', bargap=0,
    boxgap=0.25, boxgroupgap=0, boxmode='overlay', dragmode=False,
    xaxis=dict(domain=x_dom, range=x_rng, rangeslider=dict(visible=False), anchor='y', **hidden),
    yaxis=dict(domain=[fy(1034), fy(29)], range=[710.7, 1359.6], tickvals=[1000, 1250], anchor='x', **grid),
    xaxis2=dict(domain=x_dom, range=x_rng, anchor='y2', **hidden),
    yaxis2=dict(domain=[fy(1161), fy(1034)], range=[0, 4534], tickvals=[1785, 3545], anchor='x2', **grid),
    yaxis3=dict(domain=[fy(1161), fy(1034)], range=[-800.75, 1233], overlaying='y2', anchor='x2', **hidden),
    xaxis3=dict(domain=x_dom, range=x_rng, anchor='y4', **hidden),
    yaxis4=dict(domain=[0, fy(1161)], range=[-72.1, 130.3], tickvals=[-50, 0, 50, 100], anchor='x3', **grid),
    xaxis4=dict(domain=[fx(2100), fx(2234)], range=[-90.5, 0], anchor='y5', **hidden),
    xaxis5=dict(domain=[fx(2287), fx(2400)], range=[0, 76.4], anchor='y5', **hidden),
    yaxis5=dict(domain=[fy(1052.5), fy(941.5)], autorange='reversed', anchor='x4', type='category', **hidden),
    xaxis6=dict(domain=[fx(2150), fx(2330)], range=[-46.8, 29.8], anchor='y6', **hidden),
    yaxis6=dict(domain=[fy(1268), fy(1124)], autorange='reversed', anchor='x6', type='category', **hidden),
    shapes=shapes, annotations=notes,
)

fig.write_html("out.html", config={'displayModeBar': False}, post_script="document.body.style.margin='0';")
